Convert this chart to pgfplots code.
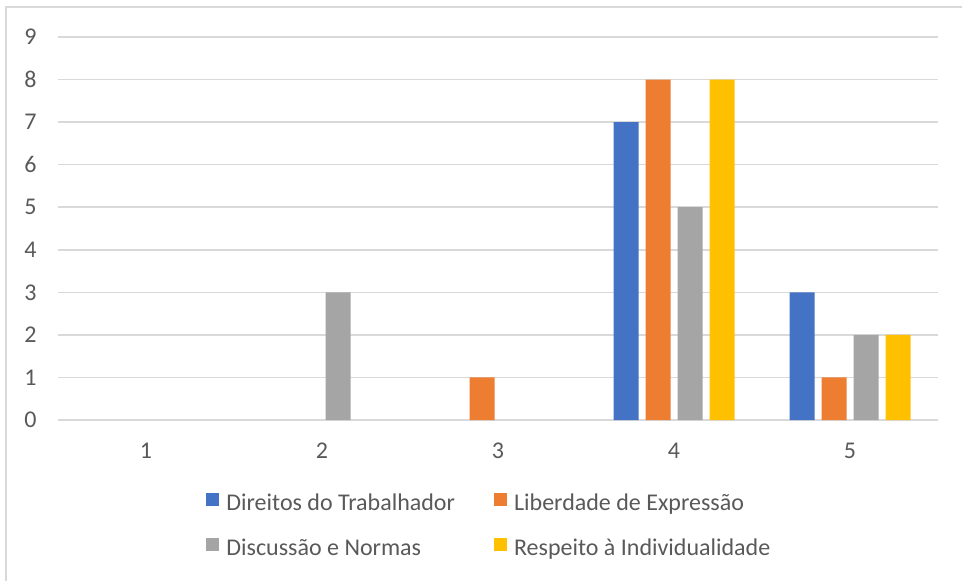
\documentclass[border=0pt]{standalone}
\usepackage{pgfplots}
\pgfplotsset{compat=1.18}
\usepackage{fontspec}
\setmainfont{Carlito}

\definecolor{cBlue}{HTML}{4472C4}
\definecolor{cOrange}{HTML}{ED7D31}
\definecolor{cGray}{HTML}{A5A5A5}
\definecolor{cGold}{HTML}{FFC000}
\definecolor{cGrid}{HTML}{D9D9D9}
\definecolor{cText}{HTML}{595959}

\begin{document}
\begin{tikzpicture}[x=1pt,y=1pt]
% page area and chart frame
\path[use as bounding box] (-29,-80) rectangle (452,210);
\draw[cGrid, line width=1pt] (-26,-82) -- (-26,206.5) -- (454,206.5);
\begin{axis}[
  at={(0,0)}, anchor=south west,
  scale only axis, width=440pt, height=191.5pt,
  xmin=0.5, xmax=5.5, ymin=0, ymax=9,
  xtick={1,2,3,4,5}, ytick={0,1,...,9},
  axis line style={draw=none},
  major tick length=0pt,
  ymajorgrids, grid style={cGrid, line width=0.75pt},
  ybar=3.5pt, bar width=12.5pt,
  font=\fontsize{12}{14.4}\selectfont,
  /pgf/number format/assume math mode=true,
  tick label style={text=cText, inner sep=0pt},
  yticklabel style={anchor=east, xshift=-10.5pt},
  xticklabel style={anchor=north, yshift=-11.5pt},
  legend columns=2,
  legend cell align=left,
  legend style={draw=none, fill=none, inner sep=0pt,
    at={(0.1682,-0.1885)}, anchor=north west,
    font=\fontsize{12}{14.4}\selectfont, text=cText,
    row sep=11pt,
    nodes={inner sep=0pt, text height=8.4pt, text depth=2.6pt},
    /tikz/every odd column/.append style={column sep=3.5pt},
    /tikz/every even column/.append style={column sep=19.5pt}},
  legend image code/.code={\fill[#1] (0pt,-0.4pt) rectangle (6.5pt,6.1pt);},
]
% zero counts are left out, so no bar is drawn for them
\addplot[fill=cBlue, draw=none] coordinates {(4,7) (5,3)};
\addplot[fill=cOrange, draw=none] coordinates {(3,1) (4,8) (5,1)};
\addplot[fill=cGray, draw=none] coordinates {(2,3) (4,5) (5,2)};
\addplot[fill=cGold, draw=none] coordinates {(4,8) (5,2)};
\legend{Direitos do Trabalhador, Liberdade de Expressão, Discussão e Normas, Respeito à Individualidade}
\end{axis}
\end{tikzpicture}
\end{document}
